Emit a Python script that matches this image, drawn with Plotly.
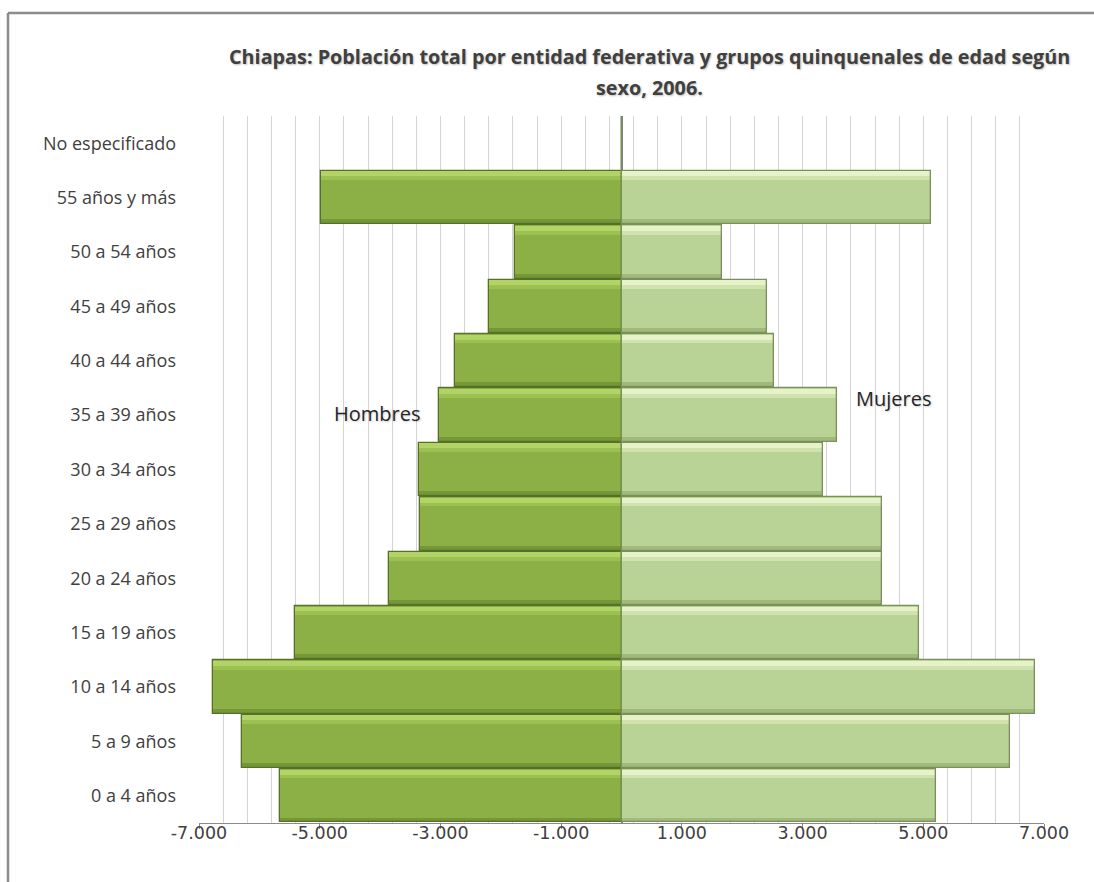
import plotly.graph_objects as go

# Age groups, bottom to top
grupos = [
    "0 a 4 años", "5 a 9 años", "10 a 14 años", "15 a 19 años",
    "20 a 24 años", "25 a 29 años", "30 a 34 años", "35 a 39 años",
    "40 a 44 años", "45 a 49 años", "50 a 54 años", "55 años y más",
    "No especificado",
]
hombres = [5655, 6290, 6761, 5403, 3856, 3342, 3353, 3021, 2753, 2201, 1758, 4980, 0]
mujeres = [5207, 6439, 6849, 4931, 4323, 4323, 3338, 3577, 2526, 2416, 1658, 5124, 0]

tick_vals = [-7000, -5000, -3000, -1000, 1000, 3000, 5000, 7000]
tick_text = ["-7.000", "-5.000", "-3.000", "-1.000", "1.000", "3.000", "5.000", "7.000"]

titulo_1 = "Chiapas: Población total por entidad federativa y grupos quinquenales de edad según"
titulo_2 = "sexo, 2006."

FONT = "Open Sans"
W, H = 1094, 882
M_L, M_R, M_T, M_B = 199, 50, 116, 59
PW, PH = W - M_L - M_R, H - M_T - M_B


def px_x(p):
    return (p - M_L) / PW


def px_y(p):
    return (H - M_B - p) / PH


estilos = {
    "Hombres": dict(body="#8cb046", hi="#b2d466", hi2="#9dc052", lo="#769736", edge="#56702a"),
    "Mujeres": dict(body="#b9d296", hi="#e6f3c9", hi2="#cfe2b0", lo="#a1ba7c", edge="#7a905c"),
}

fig = go.Figure()


def add_bevel_bar(name, xs):
    st = estilos[name]
    common = dict(y=grupos, x=xs, orientation="h", showlegend=False, hoverinfo="skip")
    # body
    fig.add_trace(go.Bar(name=name, marker=dict(color=st["body"], line=dict(width=0)),
                         width=0.98, offset=-0.49, **common))
    # light band along the top edge
    fig.add_trace(go.Bar(marker=dict(color=st["hi2"], line=dict(width=0)),
                         width=0.08, offset=0.32, **common))
    fig.add_trace(go.Bar(marker=dict(color=st["hi"], line=dict(width=0)),
                         width=0.09, offset=0.39, **common))
    # darker band along the bottom edge
    fig.add_trace(go.Bar(marker=dict(color=st["lo"], line=dict(width=0)),
                         width=0.09, offset=-0.49, **common))
    # outline
    fig.add_trace(go.Bar(marker=dict(color="rgba(0,0,0,0)", line=dict(width=1.3, color=st["edge"])),
                         width=0.98, offset=-0.49, **common))


add_bevel_bar("Hombres", [-v for v in hombres])
add_bevel_bar("Mujeres", mujeres)

fig.update_layout(
    width=W, height=H,
    margin=dict(l=M_L, r=M_R, t=M_T, b=M_B),
    paper_bgcolor="white", plot_bgcolor="white",
    barmode="overlay", bargap=0,
    showlegend=False,
    font=dict(family=FONT, color="#404040"),
    xaxis=dict(
        range=[-7000, 7000],
        tickvals=tick_vals, ticktext=tick_text,
        tickfont=dict(family="DejaVu Sans", size=17.5, color="#404040"),
        showgrid=True, gridcolor="#d4d4d4", gridwidth=1.3,
        minor=dict(tick0=-7000, dtick=400, showgrid=True, gridcolor="#d4d4d4", gridwidth=1.3),
        zeroline=True, zerolinecolor="#7f7f7f", zerolinewidth=1.5,
        showline=True, linecolor="#8a8a8a", linewidth=1.2,
        ticks="outside", ticklen=5, tickcolor="#8a8a8a",
        ticklabelstandoff=-11,
        fixedrange=True,
    ),
    yaxis=dict(
        type="category", categoryorder="array", categoryarray=grupos,
        range=[-0.5, len(grupos) - 0.5],
        tickfont=dict(size=18, color="#404040"),
        showgrid=False, showline=False, zeroline=False,
        ticks="", ticklabelstandoff=22,
        fixedrange=True,
    ),
)

# chart frame
frame = dict(type="line", xref="paper", yref="paper", line=dict(color="#8c8c8c", width=2.5))
fig.add_shape(x0=px_x(8), x1=px_x(8), y0=px_y(13), y1=px_y(H + 5), **frame)
fig.add_shape(x0=px_x(8), x1=px_x(W + 5), y0=px_y(13), y1=px_y(13), **frame)

# title
title_font = dict(family=FONT, size=19.8, color="#404040", weight="bold",
                  shadow="1px 1px 2px rgba(0,0,0,0.25)")
fig.add_annotation(text=titulo_1, xref="paper", yref="paper", x=px_x(649), y=px_y(57),
                   xanchor="center", yanchor="middle", showarrow=False, font=title_font)
fig.add_annotation(text=titulo_2, xref="paper", yref="paper", x=px_x(649), y=px_y(87),
                   xanchor="center", yanchor="middle", showarrow=False, font=title_font)

# series labels
serie_font = dict(family=FONT, size=20, color="#262626", shadow="1px 1px 2px rgba(0,0,0,0.2)")
fig.add_annotation(text="Hombres", x=-4050, y="35 a 39 años", yshift=2,
                   xanchor="center", yanchor="middle", showarrow=False, font=serie_font)
fig.add_annotation(text="Mujeres", x=4510, y="35 a 39 años", yshift=17,
                   xanchor="center", yanchor="middle", showarrow=False, font=serie_font)

fig.write_html("out.html")
